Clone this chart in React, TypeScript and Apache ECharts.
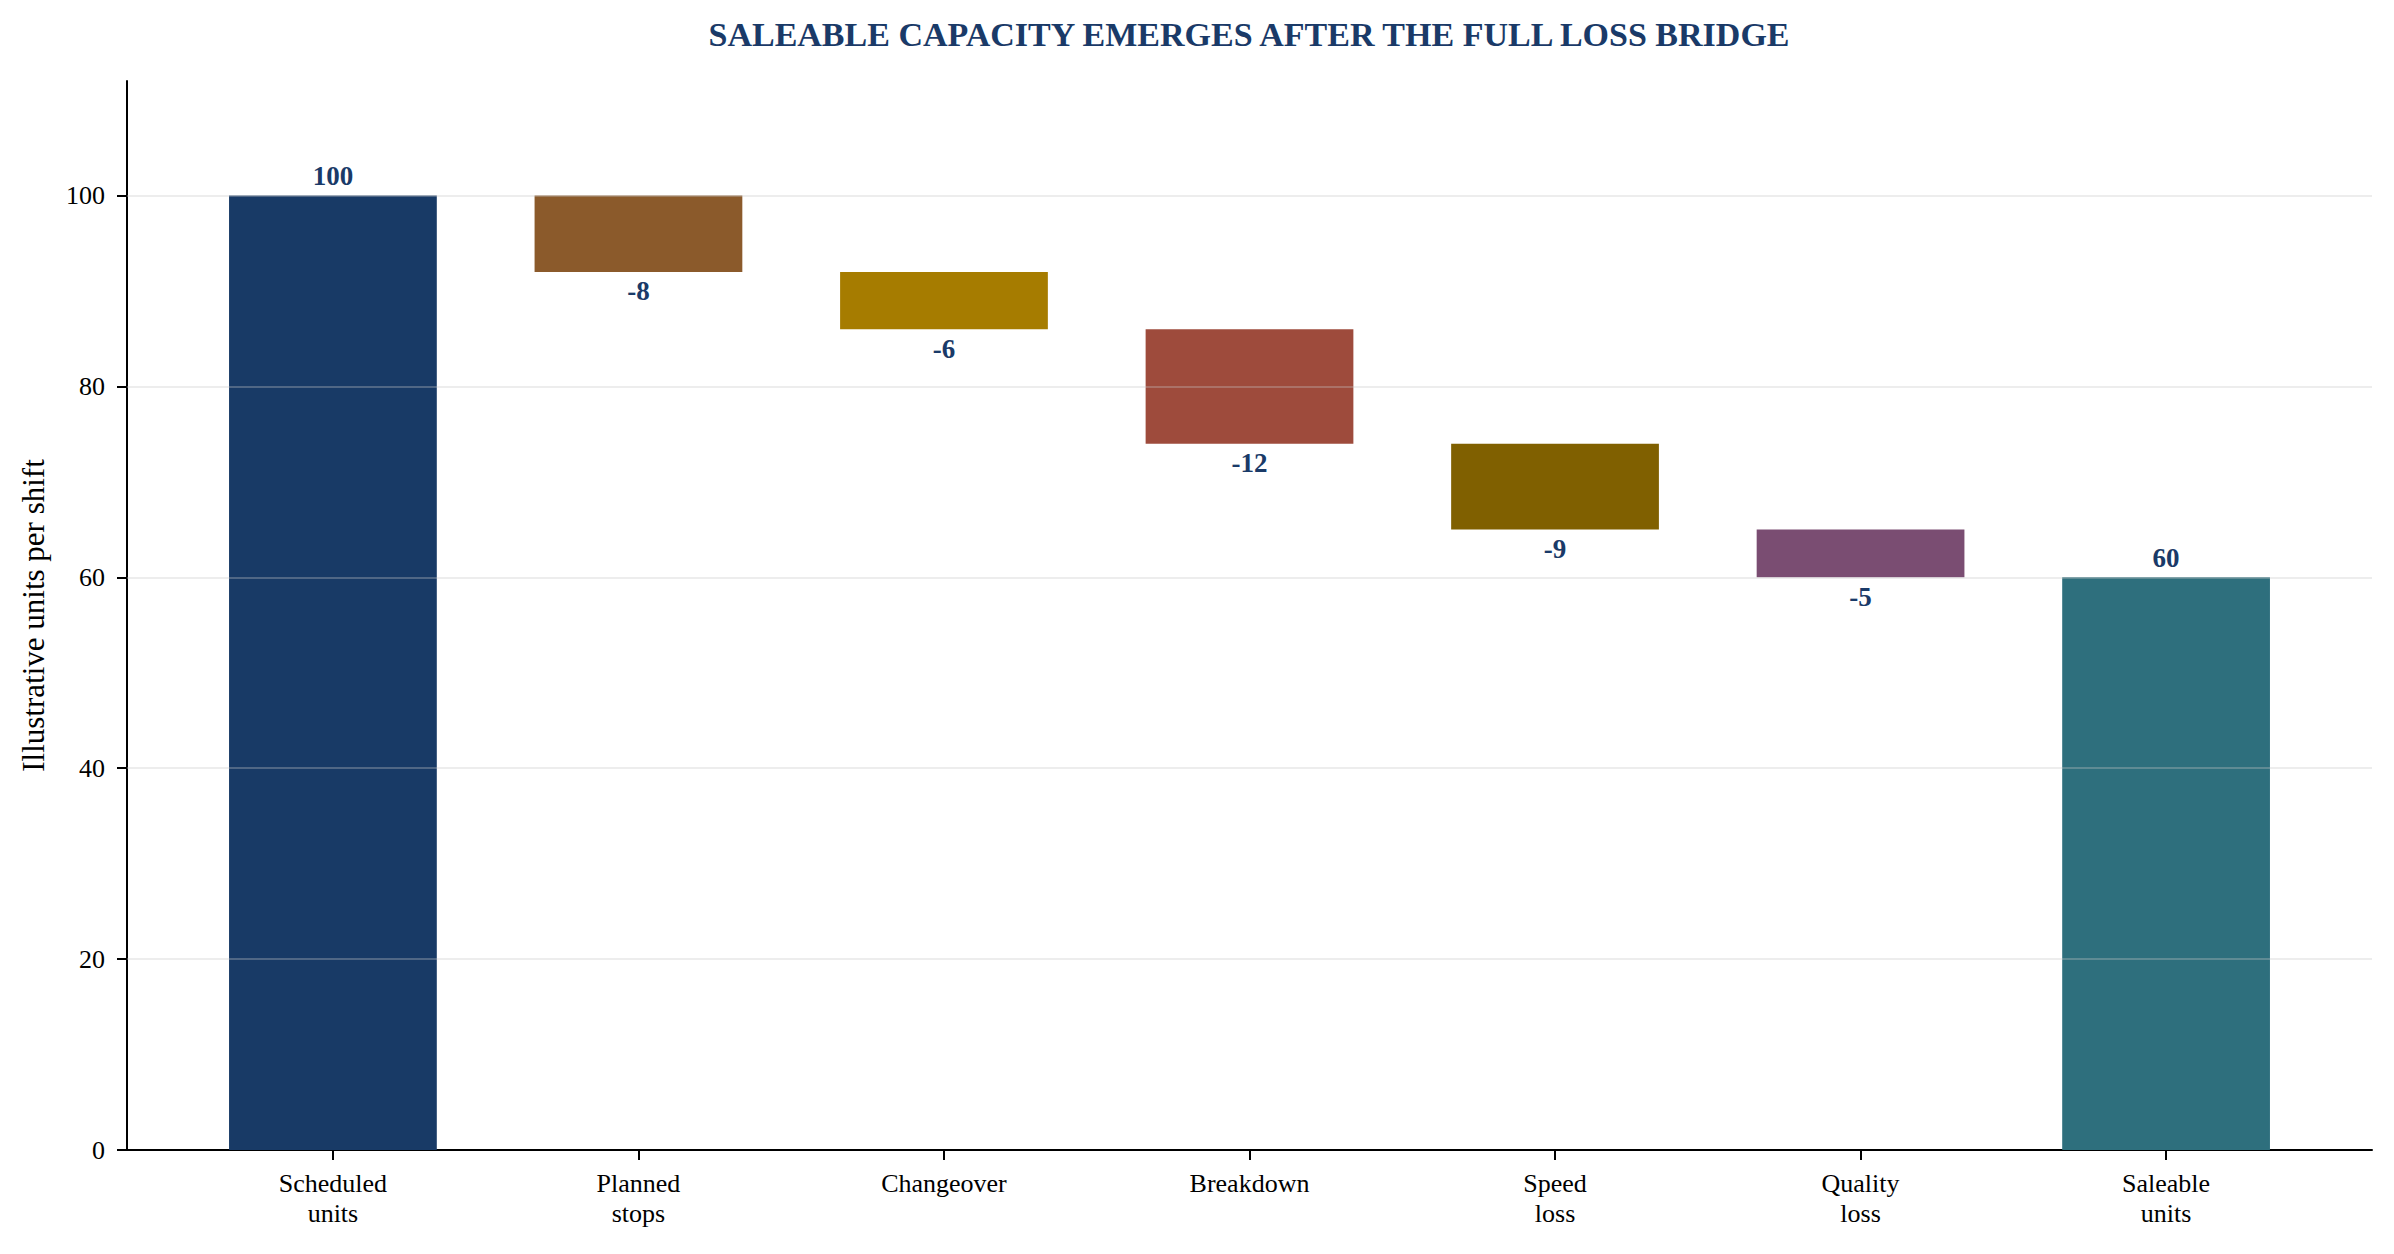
import React, { useEffect, useRef } from "react";
import * as echarts from "echarts";

const categories = [
  "Scheduled\nunits",
  "Planned\nstops",
  "Changeover",
  "Breakdown",
  "Speed\nloss",
  "Quality\nloss",
  "Saleable\nunits",
];
const changes = [100, -8, -6, -12, -9, -5, 60];
const kinds = ["total", "delta", "delta", "delta", "delta", "delta", "total"];
const barColors = ["#183a66", "#8b5a2b", "#a67c00", "#9e4b3c", "#806000", "#7a4d72", "#2e6f7d"];
const yTicks = [0, 20, 40, 60, 80, 100];
const xPositions = [0, 1, 2, 3, 4, 5, 6];

const NAVY = "#1a3a68";
const FONT = "'Liberation Serif', 'Times New Roman', serif";

export default function App() {
  const ref = useRef<HTMLDivElement>(null);

  useEffect(() => {
    if (!ref.current) return;
    const chart = echarts.init(ref.current, undefined, { renderer: "svg" });

    let running = 0;
    const lows: number[] = [];
    const highs: number[] = [];
    changes.forEach((v, i) => {
      if (kinds[i] === "total") {
        lows.push(0);
        highs.push(v);
        running = v;
      } else {
        const next = running + v;
        lows.push(next);
        highs.push(running);
        running = next;
      }
    });

    const option: any = {
      animation: false,
      backgroundColor: "#ffffff",
      textStyle: { fontFamily: FONT },
      graphic: [
        {
          type: "text",
          x: 1249,
          y: 34,
          style: {
            text: "SALEABLE CAPACITY EMERGES AFTER THE FULL LOSS BRIDGE",
            fontFamily: FONT,
            fontWeight: "bold",
            fontSize: 34,
            fill: NAVY,
            textAlign: "center",
            textVerticalAlign: "middle",
          },
        },
      ],
      grid: { left: 127, right: 22, top: 81, bottom: 104 },
      xAxis: {
        type: "value",
        min: -0.674,
        max: 6.674,
        splitLine: { show: false },
        axisLine: { show: true, onZero: false, lineStyle: { color: "#000", width: 2 } },
        axisTick: {
          show: true,
          length: 10,
          lineStyle: { color: "#000", width: 2 },
          customValues: xPositions,
        },
        axisLabel: {
          customValues: xPositions,
          formatter: (v: number) => categories[Math.round(v)] ?? "",
          fontFamily: FONT,
          fontSize: 26,
          lineHeight: 30,
          color: "#000",
          margin: 18,
        },
      },
      yAxis: [
        {
          type: "value",
          min: 0,
          max: 112,
          name: "Illustrative units per shift",
          nameLocation: "middle",
          nameGap: 78,
          nameTextStyle: { fontFamily: FONT, fontSize: 31, color: "#000" },
          splitLine: { show: false },
          axisLine: { show: true, onZero: false, lineStyle: { color: "#000", width: 2 } },
          axisTick: {
            show: true,
            length: 10,
            lineStyle: { color: "#000", width: 2 },
            customValues: yTicks,
          },
          axisLabel: {
            customValues: yTicks,
            fontFamily: FONT,
            fontSize: 26,
            color: "#000",
            margin: 22,
          },
        },
        {
          type: "value",
          min: 0,
          max: 112,
          interval: 20,
          position: "left",
          z: 10,
          axisLine: { show: false, onZero: false },
          axisTick: { show: false },
          axisLabel: { show: false },
          splitLine: {
            show: true,
            showMinLine: false,
            showMaxLine: false,
            lineStyle: { color: "rgba(200,200,200,0.32)", width: 2 },
          },
        },
      ],
      series: [
        {
          type: "custom",
          yAxisIndex: 0,
          data: xPositions.map((x, i) => [x, lows[i], highs[i], i]),
          encode: { x: 0, y: [1, 2] },
          z: 2,
          renderItem: (params: any, api: any) => {
            const x = api.value(0);
            const lo = api.value(1);
            const hi = api.value(2);
            const i = api.value(3);
            const top = api.coord([x, hi]);
            const bot = api.coord([x, lo]);
            const w = api.size([0.68, 0])[0];
            return {
              type: "rect",
              shape: { x: top[0] - w / 2, y: top[1], width: w, height: bot[1] - top[1] },
              style: { fill: barColors[i] },
              textContent: {
                style: {
                  text: String(changes[i]),
                  fontFamily: FONT,
                  fontWeight: "bold",
                  fontSize: 27,
                  fill: NAVY,
                },
              },
              textConfig: {
                position: kinds[i] === "total" ? "top" : "bottom",
                distance: 6,
              },
            };
          },
        },
      ],
    };

    chart.setOption(option);
    return () => chart.dispose();
  }, []);

  return (
    <div
      ref={ref}
      style={{ position: "absolute", left: 0, top: 0, width: 2394, height: 1254, background: "#fff" }}
    />
  );
}
